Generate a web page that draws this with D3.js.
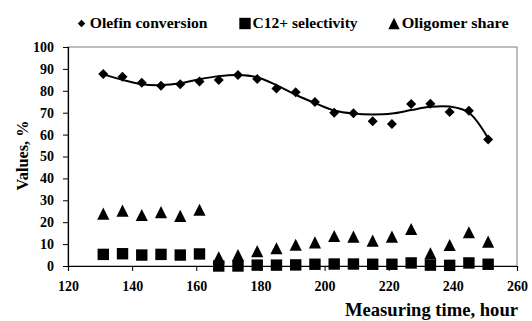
<!DOCTYPE html>
<html><head><meta charset="utf-8">
<script src="https://cdn.jsdelivr.net/npm/d3@7"></script>
<style>body{margin:0;background:#fff}svg{display:block}
text{font-family:"Liberation Serif","Times New Roman",Times,serif;font-weight:bold;fill:#000}</style>
</head><body>
<svg id="c" width="532" height="321"></svg>
<script>
const hours = [131,137,143,149,155,161,167,173,179,185,191,197,203,209,215,221,227,233,239,245,251];
const olefinConversion = [87.7,86.4,83.7,82.3,83.0,84.2,84.9,87.2,85.4,81.1,79.3,74.9,70.0,69.7,66.1,64.8,74.0,74.1,70.3,70.9,57.8];
const c12Selectivity = [5.3,5.6,5.0,5.3,5.0,5.5,0,0,0.4,0.4,0.5,0.8,0.9,0.9,0.8,0.8,1.4,0.4,0.3,1.4,0.8];
const oligomerShare = [23.9,25.3,23.3,24.6,22.9,25.7,4.0,5.0,6.8,8.1,9.7,10.8,13.7,13.4,11.6,13.4,16.9,5.8,9.6,15.4,11.1];
// trendline of olefin conversion at each measuring time
const olefinTrend = [87.5,85.0,83.0,82.6,83.4,85.3,86.7,87.2,86.2,82.6,78.2,74.4,71.0,69.6,69.2,69.6,71.2,72.7,72.8,70.0,58.3];
const xTicks = [120,140,160,180,200,220,240,260];
const yTicks = [0,10,20,30,40,50,60,70,80,90,100];
const legendLabels = ["Olefin conversion","C12+ selectivity","Oligomer share"];

const svg = d3.select("#c");
const L=68, R=517, T=47, B=266;
const x = d3.scaleLinear().domain([120,260]).range([L,R]);
const y = d3.scaleLinear().domain([0,100]).range([B,T]);

// frame
svg.append("rect").attr("x",L).attr("y",T).attr("width",R-L).attr("height",B-T)
  .attr("fill","none").attr("stroke","#7f7f7f").attr("stroke-width",1);

// axes
const ax = svg.append("g").attr("transform",`translate(0,${B})`)
  .call(d3.axisBottom(x).tickValues(xTicks).tickSize(5).tickPadding(10).tickFormat(d3.format("d")));
const ay = svg.append("g").attr("transform",`translate(${L},0)`)
  .call(d3.axisLeft(y).tickValues(yTicks).tickSize(5).tickPadding(9).tickFormat(d3.format("d")));
[ax,ay].forEach(g=>{
  g.attr("font-family",null).attr("font-size",null);
  g.select(".domain").attr("stroke","#000").attr("stroke-width",1.2);
  g.selectAll(".tick line").attr("stroke","#000");
  g.selectAll("text").style("font-size","14px");
});

// trendline
svg.append("path").datum(hours.map((h,i)=>[h,olefinTrend[i]]))
  .attr("d", d3.line().x(d=>x(d[0])).y(d=>y(d[1])).curve(d3.curveCatmullRom.alpha(0.5)))
  .attr("fill","none").attr("stroke","#000").attr("stroke-width",2);

// markers
const triType = {draw(ctx,size){const s=Math.sqrt(size)/2; ctx.moveTo(0,-s); ctx.lineTo(s,s); ctx.lineTo(-s,s); ctx.closePath();}};
const diamond = d3.symbol().type(d3.symbolDiamond2).size(64);
const square = d3.symbol().type(d3.symbolSquare).size(130);
const tri = d3.symbol().type(triType).size(148);

svg.append("g").selectAll("path").data(oligomerShare).join("path")
  .attr("d",tri).attr("transform",(d,i)=>`translate(${x(hours[i])},${y(d)})`).attr("fill","#000");
svg.append("g").selectAll("path").data(c12Selectivity).join("path")
  .attr("d",square).attr("transform",(d,i)=>`translate(${x(hours[i])},${y(d)})`).attr("fill","#000");
svg.append("g").selectAll("path").data(olefinConversion).join("path")
  .attr("d",diamond).attr("transform",(d,i)=>`translate(${x(hours[i])},${y(d)})`).attr("fill","#000");

// axis titles
svg.append("text").attr("x",518).attr("y",316).attr("text-anchor","end")
  .style("font-size","18.5px").attr("textLength",173).attr("lengthAdjust","spacingAndGlyphs")
  .text("Measuring time, hour");
svg.append("text").attr("transform","translate(28,155.5) rotate(-90)").attr("text-anchor","middle")
  .style("font-size","17px").attr("textLength",70).attr("lengthAdjust","spacingAndGlyphs").text("Values, %");

// legend
const legSym = [81.5, 245, 394];
const legTxt = [[89.8,117.7],[252.6,105],[401.7,107]];
const legSyms = [d3.symbol().type(d3.symbolDiamond2).size(36),
                 d3.symbol().type(d3.symbolSquare).size(130),
                 d3.symbol().type(triType).size(130)];
const lg = svg.append("g");
legendLabels.forEach((t,i)=>{
  lg.append("path").attr("d",legSyms[i]).attr("transform",`translate(${legSym[i]},23.5)`).attr("fill","#000");
  lg.append("text").attr("x",legTxt[i][0]).attr("y",28).style("font-size","15.5px")
    .attr("textLength",legTxt[i][1]).attr("lengthAdjust","spacingAndGlyphs").text(t);
});
</script>
</body></html>
